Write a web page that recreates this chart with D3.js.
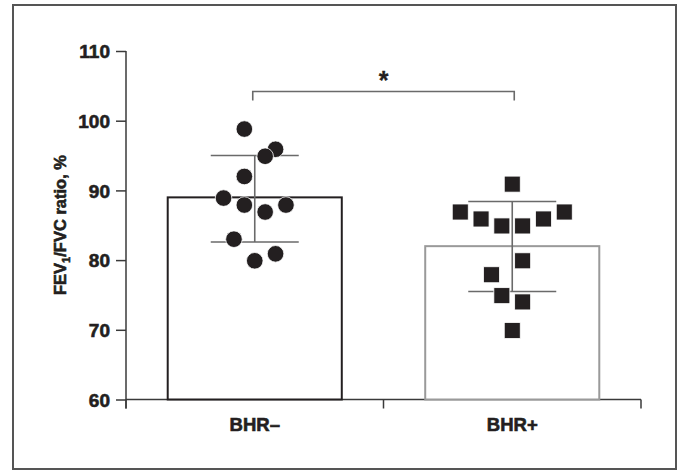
<!DOCTYPE html>
<html>
<head>
<meta charset="utf-8">
<script src="https://cdn.jsdelivr.net/npm/d3@7"></script>
<style>
  html, body { margin: 0; padding: 0; background: #fff; }
  svg { display: block; }
  text { font-family: "Liberation Sans", Arial, sans-serif; font-weight: bold; fill: #231f20;
         stroke: #231f20; stroke-width: 0.6px; }
</style>
</head>
<body>
<svg id="chart" width="683" height="472"></svg>
<script>
// ---- data ----
const categories = ["BHR–", "BHR+"];
const means = [89, 82];
const errUpper = [95, 88.4];
const errLower = [82.6, 75.5];
const bhrNegValues = [98.8, 95.9, 94.9, 92.0, 88.9, 87.9, 87.9, 86.9, 83.0, 80.9, 79.9];
const bhrNegColumn = [-1, 2, 1, -1, -3, -1, 3, 1, -2, 2, 0];
const bhrPosValues = [90.9, 86.9, 85.9, 84.9, 84.9, 85.9, 86.9, 79.9, 77.9, 74.9, 74.0, 69.9];
const bhrPosColumn = [0, -5, -3, -1, 1, 3, 5, 1, -2, -1, 1, 0];
const yTicks = [60, 70, 80, 90, 100, 110];
const significance = { from: 0, to: 1, level: 104.2, label: "*" };

// ---- layout ----
const svg = d3.select("#chart");
const x = d3.scaleBand().domain(categories).range([126, 641]).padding(0);
const y = d3.scaleLinear().domain([60, 110]).range([399.5, 51]);
const barFrac = 0.676;
const colStep = 10.4;
const axisColor = "#3a3a3a";

// outer frame
svg.append("rect").attr("x", 13).attr("y", 5).attr("width", 663).attr("height", 464)
  .attr("fill", "none").attr("stroke", "#555").attr("stroke-width", 2);

// y axis
const yAxis = svg.append("g").attr("transform", `translate(${x.range()[0]},0)`)
  .call(d3.axisLeft(y).tickValues(yTicks).tickSize(10).tickSizeOuter(0).tickPadding(6));
yAxis.select(".domain").remove();
yAxis.selectAll(".tick line").attr("stroke", axisColor).attr("stroke-width", 1.5);
yAxis.selectAll(".tick text").attr("font-size", 19).attr("fill", "#231f20")
  .style("font-family", "'Liberation Sans', Arial, sans-serif").style("font-weight", "bold")
  .attr("dy", "0.36em");
svg.append("line").attr("x1", x.range()[0]).attr("x2", x.range()[0])
  .attr("y1", y(110)).attr("y2", y(60) + 9).attr("stroke", axisColor).attr("stroke-width", 1.5);

// x axis
svg.append("line").attr("x1", x.range()[0]).attr("x2", x.range()[1])
  .attr("y1", y(60)).attr("y2", y(60)).attr("stroke", axisColor).attr("stroke-width", 1.5);
const boundaries = [x(categories[0]), x(categories[1]), x(categories[1]) + x.bandwidth()];
svg.selectAll(".xtick").data(boundaries).join("line")
  .attr("x1", d => d).attr("x2", d => d).attr("y1", y(60)).attr("y2", y(60) + 9)
  .attr("stroke", axisColor).attr("stroke-width", 1.5);
svg.selectAll(".xlabel").data(categories).join("text")
  .attr("x", d => x(d) + x.bandwidth() / 2).attr("y", 431)
  .attr("text-anchor", "middle").attr("font-size", 18.5).text(d => d);

// bars
const barColors = ["#231f20", "#9a9a9a"];
svg.selectAll(".bar").data(categories).join("rect")
  .attr("x", d => x(d) + x.bandwidth() * (1 - barFrac) / 2)
  .attr("width", x.bandwidth() * barFrac)
  .attr("y", (d, i) => y(means[i]))
  .attr("height", (d, i) => y(60) - y(means[i]))
  .attr("fill", "#fff").attr("stroke", (d, i) => barColors[i]).attr("stroke-width", 2);

// error bars
const capHalf = 44;
categories.forEach((c, i) => {
  const cx = x(c) + x.bandwidth() / 2;
  const g = svg.append("g").attr("stroke", "#6a6a6a").attr("stroke-width", 1.6);
  g.append("line").attr("x1", cx).attr("x2", cx).attr("y1", y(errUpper[i])).attr("y2", y(errLower[i]));
  g.append("line").attr("x1", cx - capHalf).attr("x2", cx + capHalf).attr("y1", y(errUpper[i])).attr("y2", y(errUpper[i]));
  g.append("line").attr("x1", cx - capHalf).attr("x2", cx + capHalf).attr("y1", y(errLower[i])).attr("y2", y(errLower[i]));
});

// points
const negCx = x(categories[0]) + x.bandwidth() / 2;
svg.selectAll(".circ").data(bhrNegValues).join("circle")
  .attr("cx", (d, i) => negCx + bhrNegColumn[i] * colStep)
  .attr("cy", d => y(d)).attr("r", 8.3)
  .attr("fill", "#231f20").attr("stroke", "#fff").attr("stroke-width", 0.8);
const posCx = x(categories[1]) + x.bandwidth() / 2;
const sq = 16;
svg.selectAll(".sq").data(bhrPosValues).join("rect")
  .attr("x", (d, i) => posCx + bhrPosColumn[i] * colStep - sq / 2)
  .attr("y", d => y(d) - sq / 2).attr("width", sq).attr("height", sq)
  .attr("fill", "#231f20").attr("stroke", "#fff").attr("stroke-width", 0.8);

// significance bracket
const bx1 = x(categories[significance.from]) + x.bandwidth() / 2 - 2;
const bx2 = x(categories[significance.to]) + x.bandwidth() / 2 + 2;
const by = y(significance.level);
svg.append("path")
  .attr("d", `M${bx1},${by + 9}V${by}H${bx2}V${by + 9}`)
  .attr("fill", "none").attr("stroke", "#6a6a6a").attr("stroke-width", 1.6);
svg.append("text").attr("x", (bx1 + bx2) / 2).attr("y", by - 2)
  .attr("text-anchor", "middle").attr("font-size", 25).style("stroke-width", "0.3px").text(significance.label);

// y label
const yl = svg.append("text").attr("transform", `translate(66,${225}) rotate(-90)`)
  .attr("text-anchor", "middle").attr("font-size", 16.5);
yl.append("tspan").text("FEV");
yl.append("tspan").attr("font-size", 11).attr("dy", 4).text("1");
yl.append("tspan").attr("dy", -4).text("/FVC ratio, %");
</script>
</body>
</html>
